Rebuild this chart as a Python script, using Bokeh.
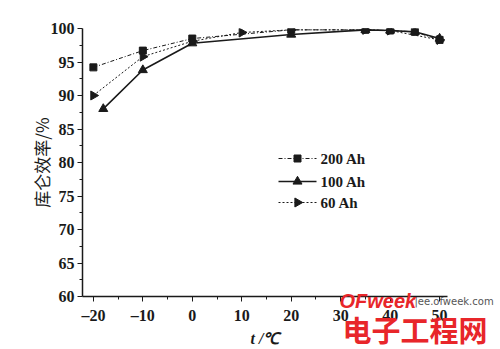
from bokeh.plotting import figure
from bokeh.models import Range1d, FixedTicker, GridBox
from bokeh.core.properties import value
from bokeh.embed import file_html
from bokeh.resources import INLINE

# Data
t_200 = [-20, -10, 0, 20, 35, 40, 45, 50]
eff_200 = [94.2, 96.7, 98.5, 99.8, 99.8, 99.7, 99.5, 98.3]
t_100 = [-18, -10, 0, 20, 35, 40, 45, 50]
eff_100 = [88.0, 93.8, 97.8, 99.1, 99.8, 99.7, 99.5, 98.5]
t_60 = [-20, -10, 0, 10, 20, 35, 40, 50]
eff_60 = [90.0, 95.8, 98.1, 99.4, 99.8, 99.8, 99.7, 98.3]
series_names = ["200 Ah", "100 Ah", "60 Ah"]
x_ticks = [-20, -10, 0, 10, 20, 30, 40, 50]
y_ticks = [60, 65, 70, 75, 80, 85, 90, 95, 100]
x_ticks_minor = [-15, -5, 5, 15, 25, 35, 45]
y_ticks_minor = [62.5, 67.5, 72.5, 77.5, 82.5, 87.5, 92.5, 97.5]

ink = "#1a1a1a"
styles = [
    dict(line_width=1, line_dash="4 2 1 2", marker="square", size=7, angle=0.0),
    dict(line_width=1.6, line_dash="solid", marker="triangle", size=9, angle=0.0),
    dict(line_width=1, line_dash="2 2", marker="triangle", size=9, angle=-1.5708),
]

p = figure(width=500, height=349, output_backend="svg", toolbar_location=None,
           x_range=Range1d(-22.2, 51.6), y_range=Range1d(60, 100),
           min_border_left=82, min_border_right=53, min_border_top=28, min_border_bottom=51)
p.outline_line_color = None
p.grid.grid_line_color = None
p.frame_align = False

for (xs, ys), st in zip([(t_200, eff_200), (t_100, eff_100), (t_60, eff_60)], styles):
    p.line(xs, ys, line_color=ink, line_width=st["line_width"], line_dash=st["line_dash"])
    p.scatter(xs, ys, marker=st["marker"], size=st["size"], angle=st["angle"], color=ink)

for ax in (p.xaxis, p.yaxis):
    ax.axis_line_color = ink
    ax.axis_line_width = 1.5
    ax.major_tick_line_color = ink
    ax.minor_tick_line_color = ink
    ax.major_tick_out = 5
    ax.major_tick_in = 0
    ax.minor_tick_out = 3
    ax.minor_tick_in = 0
    ax.major_label_text_font = "Liberation Serif"
    ax.major_label_text_font_style = "bold"
    ax.major_label_text_font_size = "16px"
    ax.major_label_text_color = ink

p.xaxis.ticker = FixedTicker(ticks=x_ticks, minor_ticks=x_ticks_minor)
p.yaxis.ticker = FixedTicker(ticks=y_ticks, minor_ticks=y_ticks_minor)
p.xaxis.major_label_overrides = {v: ("\u2013" + str(-v) if v < 0 else str(v)) for v in x_ticks}
p.xaxis.major_label_standoff = 5
p.yaxis.major_label_standoff = 3

p.yaxis.axis_label = "库仑效率/%"
p.yaxis.axis_label_text_font = "Noto Sans CJK SC"
p.yaxis.axis_label_text_font_style = "normal"
p.yaxis.axis_label_text_font_size = "17px"
p.yaxis.axis_label_text_color = ink
p.yaxis.axis_label_standoff = -6

p.xaxis.axis_label = "t /\u2103"
p.xaxis.axis_label_text_font = "Liberation Serif"
p.xaxis.axis_label_text_font_style = "bold italic"
p.xaxis.axis_label_text_font_size = "16px"
p.xaxis.axis_label_text_color = ink
p.xaxis.axis_label_standoff = 3

# Overlay in pixel coordinates for the legend and the watermark
q = figure(width=500, height=349, output_backend="svg", toolbar_location=None,
           x_range=Range1d(0, 500), y_range=Range1d(349, 0),
           x_axis_type=None, y_axis_type=None,
           min_border_left=0, min_border_right=0, min_border_top=0, min_border_bottom=0)
q.outline_line_color = None
q.grid.grid_line_color = None
q.background_fill_alpha = 0
q.border_fill_alpha = 0
q.frame_align = False

leg_y = [158, 181, 202]
for name, st, yy in zip(series_names, styles, leg_y):
    q.segment(x0=[278], y0=[yy], x1=[316], y1=[yy], line_color=ink,
              line_width=st["line_width"], line_dash=st["line_dash"])
    q.scatter([297], [yy], marker=st["marker"], size=st["size"], angle=st["angle"], color=ink)
    q.text([320], [yy], text=[name], text_font=value("Liberation Serif"), text_font_style="bold",
           text_font_size="15px", text_color=ink, text_baseline="middle", text_align="left")

q.text([339], [300], text=["OFweek"], text_font=value("Liberation Sans"), text_font_style="bold italic",
       text_font_size="20px", text_color="#e8262a", text_baseline="middle", text_align="left")
q.text([414], [301], text=["|ee.ofweek.com"], text_font=value("DejaVu Sans"),
       text_font_size="10px", text_color="#555555", text_baseline="middle", text_align="left")
q.text([342], [328], text=["电子工程网"], text_font=value("Noto Sans CJK SC"), text_font_style="bold",
       text_font_size="29px", text_color="#e8262a", text_baseline="middle", text_align="left")

layout = GridBox(children=[(p, 0, 0), (q, 0, 0)])
open("out.html", "w").write(file_html(layout, INLINE))
